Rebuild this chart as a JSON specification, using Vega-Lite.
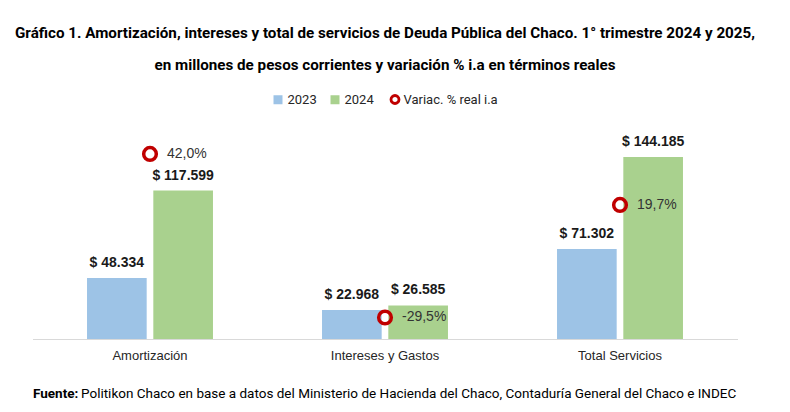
{
  "$schema": "https://vega.github.io/schema/vega-lite/v6.json",
  "autosize": {"type": "none"},
  "width": 705,
  "height": 202,
  "padding": {"left": 32.5, "top": 137, "right": 52.5, "bottom": 73},
  "background": "#ffffff",
  "config": {
    "view": {"stroke": null},
    "font": "Liberation Sans",
    "locale": {
      "number": {"decimal": ",", "thousands": ".", "grouping": [3], "currency": ["$ ", ""], "percent": "%", "minus": "-"}
    }
  },
  "title": {
    "text": [
      "Gráfico 1. Amortización, intereses y total de servicios de Deuda Pública del Chaco. 1° trimestre 2024 y 2025,",
      "en millones de pesos corrientes y variación % i.a en términos reales"
    ],
    "font": "Roboto",
    "fontSize": 15.2,
    "fontWeight": "bold",
    "color": "#000000",
    "lineHeight": 32,
    "anchor": "middle",
    "offset": 20
  },
  "datasets": {
    "montos": [
      {"categoria": "Amortización", "serie": "2023", "valor": 48334},
      {"categoria": "Amortización", "serie": "2024", "valor": 117599},
      {"categoria": "Intereses y Gastos", "serie": "2023", "valor": 22968},
      {"categoria": "Intereses y Gastos", "serie": "2024", "valor": 26585},
      {"categoria": "Total Servicios", "serie": "2023", "valor": 71302},
      {"categoria": "Total Servicios", "serie": "2024", "valor": 144185}
    ],
    "variacion": [
      {"categoria": "Amortización", "indicador": "Variac. % real i.a", "var_real": 0.42},
      {"categoria": "Intereses y Gastos", "indicador": "Variac. % real i.a", "var_real": -0.295},
      {"categoria": "Total Servicios", "indicador": "Variac. % real i.a", "var_real": 0.197}
    ]
  },
  "encoding": {
    "x": {
      "field": "categoria",
      "type": "nominal",
      "sort": null,
      "scale": {"paddingInner": 0.464, "paddingOuter": 0.232},
      "axis": {
        "title": "Politikon Chaco en base a datos del Ministerio de Hacienda del Chaco, Contaduría General del Chaco e INDEC",
        "titleFont": "Roboto",
        "titleFontSize": 13.5,
        "titleFontWeight": "normal",
        "titleColor": "#000000",
        "titleX": 48,
        "titleY": 54,
        "titleAlign": "left",
        "titleBaseline": "middle",
        "labelAngle": 0,
        "labelFontSize": 13,
        "labelColor": "#262626",
        "labelPadding": 10,
        "ticks": false,
        "domainColor": "#D9D9D9",
        "domainWidth": 1.2
      }
    }
  },
  "layer": [
    {
      "data": {"name": "montos"},
      "layer": [
        {
          "mark": {"type": "bar"},
          "encoding": {
            "xOffset": {"field": "serie", "type": "nominal", "scale": {"paddingInner": 0.1, "paddingOuter": 0}},
            "y": {
              "field": "valor",
              "type": "quantitative",
              "scale": {"domain": [0, 160000]},
              "axis": {
                "title": "Fuente:",
                "titleFont": "Roboto",
                "titleFontSize": 13.5,
                "titleFontWeight": "bold",
                "titleColor": "#000000",
                "titleAngle": 0,
                "titleX": 0,
                "titleY": 256,
                "titleAlign": "left",
                "titleBaseline": "middle",
                "labels": false,
                "ticks": false,
                "domain": false,
                "grid": false
              }
            },
            "color": {
              "field": "serie",
              "type": "nominal",
              "scale": {"domain": ["2023", "2024"], "range": ["#9DC3E6", "#A9D18E"]},
              "legend": {
                "title": null,
                "orient": "none",
                "direction": "horizontal",
                "legendX": 239,
                "legendY": -44,
                "padding": 0,
                "labelFont": "Roboto",
                "labelFontSize": 13,
                "labelColor": "#262626",
                "labelOffset": 3,
                "columnPadding": 11,
                "symbolSize": 81,
                "symbolType": "square"
              }
            }
          }
        },
        {
          "mark": {"type": "text", "baseline": "alphabetic", "dy": -11, "fontSize": 14, "fontWeight": "bold", "color": "#1a1a1a"},
          "encoding": {
            "xOffset": {"field": "serie", "type": "nominal", "scale": {"paddingInner": 0.1, "paddingOuter": 0}},
            "y": {"field": "valor", "type": "quantitative"},
            "text": {"field": "valor", "type": "quantitative", "format": "$,.0f"}
          }
        }
      ]
    },
    {
      "data": {"name": "variacion"},
      "layer": [
        {
          "mark": {"type": "point", "filled": false, "stroke": "#C00000", "strokeWidth": 3.5, "size": 160, "opacity": 1},
          "encoding": {
            "y": {"field": "var_real", "type": "quantitative", "scale": {"domain": [-0.389, 0.494]}, "axis": null},
            "shape": {
              "field": "indicador",
              "type": "nominal",
              "scale": {"range": ["circle"]},
              "legend": {
                "title": null,
                "orient": "none",
                "direction": "horizontal",
                "legendX": 356,
                "legendY": -44,
                "padding": 0,
                "labelFont": "Roboto",
                "labelFontSize": 13,
                "labelColor": "#262626",
                "labelOffset": 2,
                "symbolSize": 64,
                "symbolStrokeColor": "#C00000",
                "symbolStrokeWidth": 2.8,
                "symbolFillColor": "#ffffff"
              }
            }
          }
        },
        {
          "mark": {"type": "text", "align": "left", "baseline": "middle", "dx": 17, "fontSize": 14, "color": "#333333"},
          "encoding": {
            "y": {"field": "var_real", "type": "quantitative", "scale": {"domain": [-0.389, 0.494]}, "axis": null},
            "text": {"field": "var_real", "type": "quantitative", "format": ".1%"}
          }
        }
      ]
    }
  ],
  "resolve": {"scale": {"y": "independent"}}
}
